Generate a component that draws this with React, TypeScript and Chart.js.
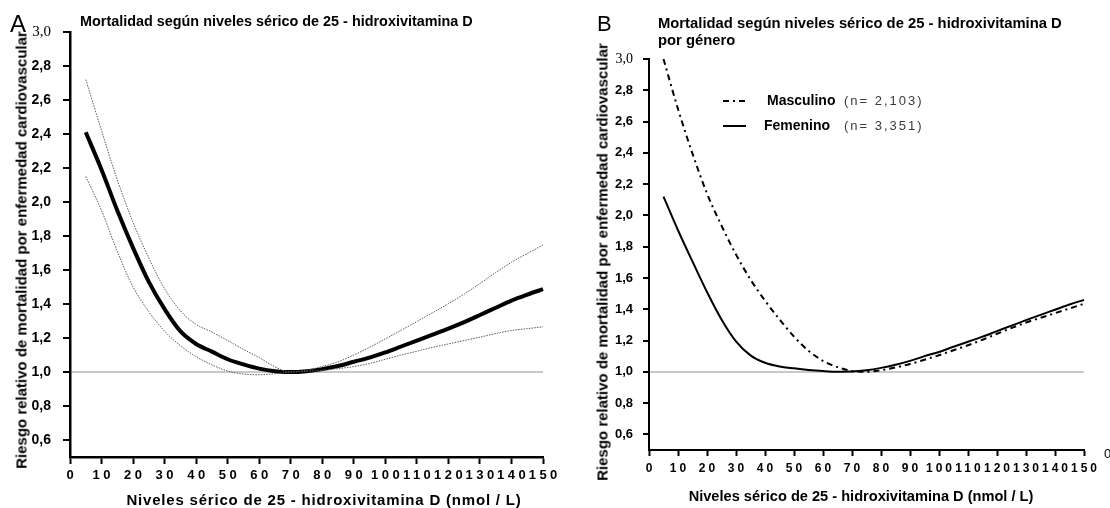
import React, { useEffect, useRef } from 'react';
import { Chart, registerables } from 'chart.js';

Chart.register(...registerables);

// Serum 25-hydroxyvitamin D levels (nmol/L) at which the curves are sampled
const vitaminD = [5, 10, 15, 20, 25, 30, 35, 40, 45, 50, 55, 60, 65, 70, 75, 80, 85, 90, 95, 100, 105, 110, 115, 120, 125, 130, 135, 140, 145, 150];

// Panel A: overall relative risk with its confidence band
const riskOverall = [2.41, 2.19, 1.95, 1.73, 1.53, 1.37, 1.24, 1.165, 1.12, 1.075, 1.045, 1.02, 1.005, 1.0, 1.005, 1.017, 1.035, 1.06, 1.085, 1.115, 1.15, 1.185, 1.22, 1.255, 1.293, 1.335, 1.378, 1.42, 1.455, 1.487];
const riskUpper = [2.72, 2.42, 2.13, 1.88, 1.67, 1.49, 1.36, 1.28, 1.235, 1.185, 1.133, 1.085, 1.03, 1.0, 1.01, 1.033, 1.06, 1.1, 1.145, 1.195, 1.245, 1.297, 1.349, 1.402, 1.458, 1.52, 1.585, 1.645, 1.697, 1.747];
const riskLower = [2.15, 1.95, 1.71, 1.5, 1.355, 1.24, 1.155, 1.09, 1.042, 1.006, 0.988, 0.984, 0.99, 1.0, 1.004, 1.01, 1.02, 1.032, 1.05, 1.075, 1.1, 1.122, 1.145, 1.165, 1.185, 1.205, 1.226, 1.244, 1.255, 1.266];

// Panel B: relative risk by sex
const riskMale = [3.0, 2.68, 2.395, 2.14, 1.935, 1.75, 1.59, 1.455, 1.335, 1.225, 1.135, 1.07, 1.03, 1.005, 1.0, 1.01, 1.028, 1.05, 1.077, 1.106, 1.138, 1.17, 1.205, 1.243, 1.28, 1.315, 1.345, 1.375, 1.405, 1.435];
const riskFemale = [2.12, 1.905, 1.705, 1.51, 1.335, 1.195, 1.105, 1.058, 1.034, 1.022, 1.012, 1.005, 1.001, 1.002, 1.01, 1.025, 1.045, 1.07, 1.1, 1.127, 1.16, 1.192, 1.225, 1.26, 1.295, 1.33, 1.364, 1.397, 1.43, 1.46];

// Axis ticks
const yTickValues = [0.6, 0.8, 1.0, 1.2, 1.4, 1.6, 1.8, 2.0, 2.2, 2.4, 2.6, 2.8, 3.0];
const xTickValues = [0, 10, 20, 30, 40, 50, 60, 70, 80, 90, 100, 110, 120, 130, 140, 150];

// Text
const titleA = 'Mortalidad según niveles sérico de 25 - hidroxivitamina D';
const titleB1 = 'Mortalidad según niveles sérico de 25 - hidroxivitamina D';
const titleB2 = 'por género';
const yTitle = 'Riesgo relativo de mortalidad por enfermedad cardiovascular';
const xTitle = 'Niveles sérico de 25 - hidroxivitamina D (nmol / L)';
const maleName = 'Masculino';
const maleCount = '(n= 2,103)';
const femaleName = 'Femenino';
const femaleCount = '(n= 3,351)';

const SANS = '"Liberation Sans", Arial, Helvetica, sans-serif';
const NARROW = '"Liberation Sans Narrow", "Arial Narrow", "Liberation Sans", Arial, sans-serif';
const SERIF = '"Liberation Serif", "Times New Roman", serif';

const points = (ys: number[]) => vitaminD.map((x, i) => ({ x, y: ys[i] }));
const fmtComma = (v: number) => v.toFixed(1).replace('.', ',');

type AxisSpec = {
  yWidth: number;
  xHeight: number;
  tickSize: number;
  xTickSize: number;
  yPad: number;
  xPad: number;
  border: number;
  tickLen: number;
};

function makeScales(s: AxisSpec): any {
  return {
    x: {
      type: 'linear',
      min: 0,
      max: 150,
      afterFit: (sc: any) => { sc.height = s.xHeight; },
      afterBuildTicks: (sc: any) => { sc.ticks = xTickValues.map((v) => ({ value: v })); },
      ticks: {
        autoSkip: false,
        maxRotation: 0,
        minRotation: 0,
        padding: s.xPad,
        color: '#000',
        font: { family: SANS, size: s.xTickSize, weight: 'bold' },
        callback: (v: number) => String(v),
      },
      grid: { drawOnChartArea: false, drawTicks: true, tickLength: s.tickLen, tickWidth: 2, tickColor: '#000', color: '#000' },
      border: { display: true, color: '#000', width: s.border },
    },
    y: {
      type: 'linear',
      min: 0.5,
      max: 3.0,
      afterFit: (sc: any) => { sc.width = s.yWidth; },
      afterBuildTicks: (sc: any) => { sc.ticks = yTickValues.map((v) => ({ value: v })); },
      ticks: {
        padding: s.yPad,
        color: '#000',
        font: (ctx: any) =>
          ctx.tick && Math.abs(ctx.tick.value - 3) < 1e-6
            ? { family: SERIF, size: s.tickSize + 1, weight: 'normal' }
            : { family: NARROW, size: s.tickSize, weight: 'bold' },
        callback: (v: number) => fmtComma(v),
      },
      grid: {
        drawOnChartArea: true,
        drawTicks: true,
        tickLength: s.tickLen,
        tickWidth: 2,
        tickColor: '#000',
        color: (ctx: any) => (ctx.tick && Math.abs(ctx.tick.value - 1) < 1e-6 ? '#c9c9c9' : 'rgba(0,0,0,0)'),
        lineWidth: 2,
      },
      border: { display: true, color: '#000', width: s.border },
    },
  };
}

// Draws the x tick labels with extra spacing between digits
const spacedXLabels = {
  id: 'spacedXLabels',
  beforeDraw(chart: any, _args: any, opts: any) {
    const sc: any = chart.scales.x;
    if (!sc || sc.__spaced) return;
    const orig = sc.drawLabels.bind(sc);
    sc.drawLabels = (area: any) => {
      const c: any = chart.ctx;
      c.save();
      c.letterSpacing = `${opts.spacing}px`;
      c.translate(opts.spacing / 2, 0);
      orig(area);
      c.restore();
    };
    sc.__spaced = true;
  },
};

// Legend for the sex-specific curves, placed inside the plot area
const genderLegend = {
  id: 'genderLegend',
  afterDraw(chart: any) {
    const ctx: any = chart.ctx;
    const { left, top } = chart.chartArea;
    const rows = [
      { dash: [6, 4, 2, 4], name: maleName, count: maleCount, dy: 42, tx: 118 },
      { dash: [], name: femaleName, count: femaleCount, dy: 67, tx: 115 },
    ];
    rows.forEach((r) => {
      const y = top + r.dy;
      ctx.save();
      ctx.strokeStyle = '#000';
      ctx.lineWidth = 2;
      ctx.setLineDash(r.dash);
      ctx.beginPath();
      ctx.moveTo(left + 74, y);
      ctx.lineTo(left + 97, y);
      ctx.stroke();
      ctx.setLineDash([]);
      ctx.textBaseline = 'middle';
      ctx.textAlign = 'left';
      ctx.fillStyle = '#000';
      ctx.font = `bold 14px ${SANS}`;
      ctx.fillText(r.name, left + r.tx, y);
      ctx.fillStyle = '#3a3a3a';
      ctx.font = `13px ${SANS}`;
      ctx.letterSpacing = '2px';
      ctx.fillText(r.count, left + 195, y + 0.5);
      ctx.restore();
    });
  },
};

const lineBase = {
  pointRadius: 0,
  fill: false,
  cubicInterpolationMode: 'monotone',
  clip: false,
  borderCapStyle: 'butt',
};

function PanelA() {
  const ref = useRef<HTMLCanvasElement>(null);
  useEffect(() => {
    if (!ref.current) return;
    const chart = new Chart(ref.current, {
      type: 'line',
      data: {
        datasets: [
          { ...lineBase, data: points(riskUpper), borderColor: '#5a5a5a', borderWidth: 1, borderDash: [1.5, 1.2] },
          { ...lineBase, data: points(riskLower), borderColor: '#5a5a5a', borderWidth: 1, borderDash: [1.5, 1.2] },
          { ...lineBase, data: points(riskOverall), borderColor: '#000', borderWidth: 4 },
        ] as any,
      },
      options: {
        animation: false,
        responsive: false,
        events: [],
        layout: { padding: { left: 0, right: 17, top: 32, bottom: 0 } },
        plugins: { legend: { display: false }, tooltip: { enabled: false }, spacedXLabels: { spacing: 3.5 } } as any,
        scales: makeScales({ yWidth: 70, xHeight: 51, tickSize: 14, xTickSize: 13, yPad: 12, xPad: 4, border: 2.5, tickLen: 7 }),
      },
      plugins: [spacedXLabels as any],
    });
    return () => chart.destroy();
  }, []);
  return <canvas ref={ref} width={560} height={508} style={{ position: 'absolute', left: 0, top: 0 }} />;
}

function PanelB() {
  const ref = useRef<HTMLCanvasElement>(null);
  useEffect(() => {
    if (!ref.current) return;
    const chart = new Chart(ref.current, {
      type: 'line',
      data: {
        datasets: [
          { ...lineBase, data: points(riskMale), borderColor: '#000', borderWidth: 2, borderDash: [6, 4, 2, 4] },
          { ...lineBase, data: points(riskFemale), borderColor: '#000', borderWidth: 2 },
        ] as any,
      },
      options: {
        animation: false,
        responsive: false,
        events: [],
        layout: { padding: { left: 0, right: 26, top: 59, bottom: 0 } },
        plugins: { legend: { display: false }, tooltip: { enabled: false }, spacedXLabels: { spacing: 3 } } as any,
        scales: makeScales({ yWidth: 89, xHeight: 58, tickSize: 13, xTickSize: 12, yPad: 10, xPad: 5, border: 2, tickLen: 6 }),
      },
      plugins: [spacedXLabels as any, genderLegend as any],
    });
    return () => chart.destroy();
  }, []);
  return <canvas ref={ref} width={550} height={508} style={{ position: 'absolute', left: 560, top: 0 }} />;
}

// Text placed by its baseline (line-height 1, Arial-like metrics)
function Text(props: { x: number; baseline: number; size: number; bold?: boolean; children: React.ReactNode; spacing?: number; color?: string }) {
  const { x, baseline, size, bold, children, spacing, color } = props;
  return (
    <div
      style={{
        position: 'absolute',
        left: x,
        top: baseline - 0.847 * size,
        fontSize: size,
        lineHeight: 1,
        fontWeight: bold ? 'bold' : 'normal',
        whiteSpace: 'nowrap',
        letterSpacing: spacing ? spacing : 'normal',
        color: color || '#000',
      }}
    >
      {children}
    </div>
  );
}

function CenteredText(props: { cx: number; cy: number; size: number; rotate?: boolean; spacing?: number; children: React.ReactNode }) {
  const { cx, cy, size, rotate, spacing, children } = props;
  return (
    <div
      style={{
        position: 'absolute',
        left: cx,
        top: cy,
        fontSize: size,
        lineHeight: 1,
        fontWeight: 'bold',
        whiteSpace: 'nowrap',
        letterSpacing: spacing ? spacing : 'normal',
        transform: `translate(-50%, -50%)${rotate ? ' rotate(-90deg)' : ''}`,
      }}
    >
      {children}
    </div>
  );
}

export default function App() {
  useEffect(() => {
    document.body.style.margin = '0';
  }, []);
  return (
    <div
      style={{
        position: 'absolute',
        left: 0,
        top: 0,
        width: 1110,
        height: 508,
        overflow: 'hidden',
        background: '#fff',
        fontFamily: SANS,
        color: '#000',
      }}
    >
      <PanelA />
      <PanelB />

      <Text x={10} baseline={32} size={24}>A</Text>
      <Text x={80} baseline={26} size={14.4} bold>{titleA}</Text>
      <CenteredText cx={21} cy={250} size={15} rotate>{yTitle}</CenteredText>
      <CenteredText cx={324} cy={499} size={15} spacing={0.8}>{xTitle}</CenteredText>

      <Text x={597} baseline={32} size={22}>B</Text>
      <Text x={658} baseline={29} size={14.8} bold>{titleB1}</Text>
      <Text x={658} baseline={46} size={14.8} bold>{titleB2}</Text>
      <CenteredText cx={602} cy={262} size={15} rotate>{yTitle}</CenteredText>
      <CenteredText cx={861} cy={496} size={14.6}>{xTitle}</CenteredText>

      <Text x={1104} baseline={458} size={13}>0</Text>
    </div>
  );
}
